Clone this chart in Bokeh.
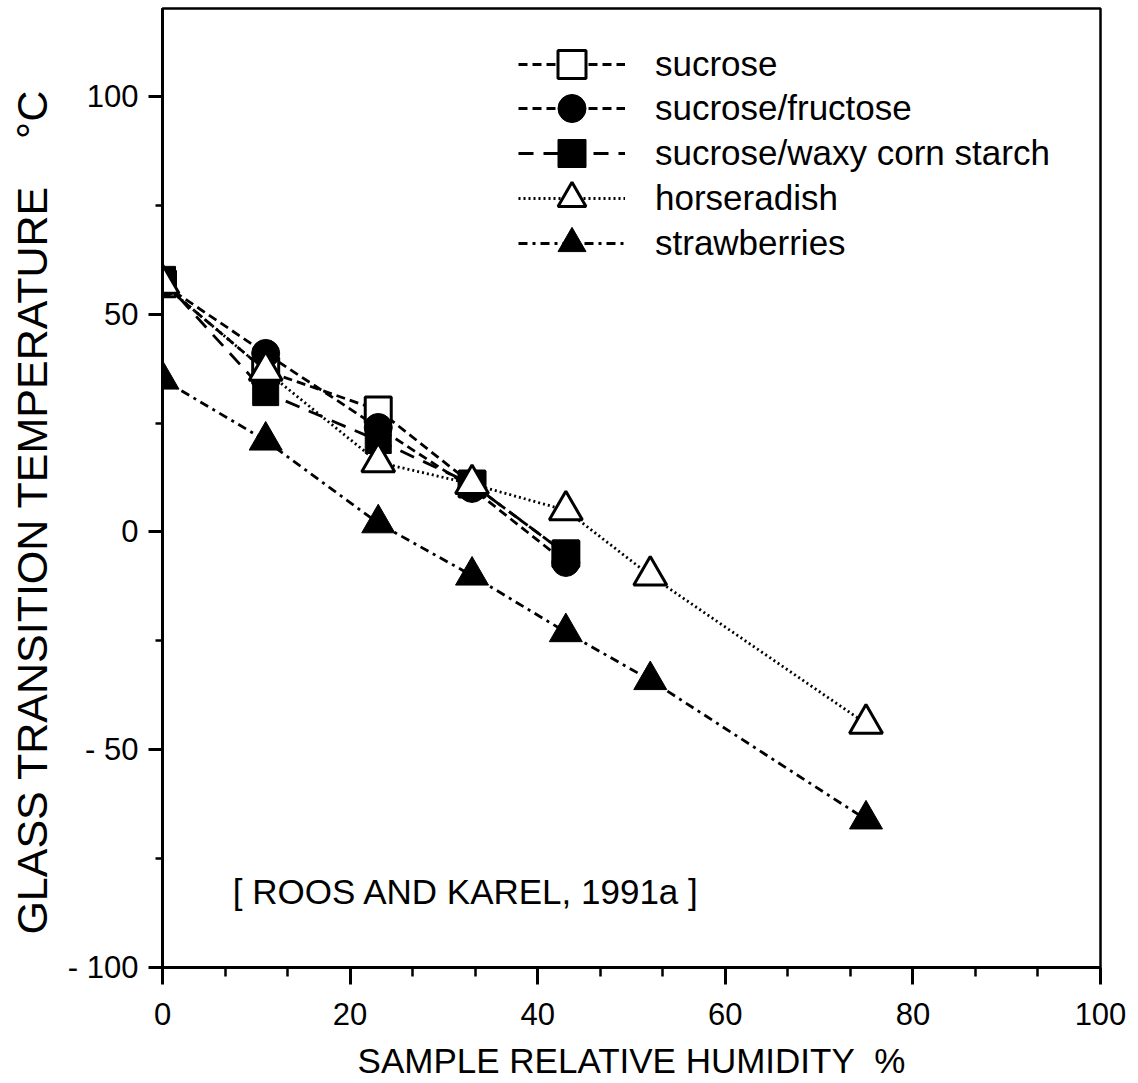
from bokeh.plotting import figure
from bokeh.models import Range1d, FixedTicker, Legend, LegendItem, Label
from bokeh.embed import file_html
from bokeh.resources import INLINE

# ---- data ----
rh_sugar = [0, 11, 23, 33, 43]
tg_sucrose = [57, 37, 28, 11, -5]
tg_sucrose_fructose = [57, 41, 24, 10, -7]
tg_sucrose_starch = [58, 32, 21, 11, -5]

rh_food = [0, 11, 23, 33, 43, 52, 75]
tg_horseradish = [57, 37, 16, 11, 5, -10, -44]
tg_strawberries = [35, 21, 2, -10, -23, -34, -66]

series_names = ["sucrose", "sucrose/fructose", "sucrose/waxy corn starch",
                "horseradish", "strawberries"]

x_ticks = [0, 20, 40, 60, 80, 100]
y_ticks = [-100, -50, 0, 50, 100]
y_tick_labels = ["-\u00a0100", "-\u00a050", "0", "50", "100"]

FONT = "Liberation Sans"

p = figure(width=1138, height=1083, output_backend="svg", toolbar_location=None,
           x_range=Range1d(0, 100), y_range=Range1d(-100, 120.2),
           frame_width=938, frame_height=959,
           min_border_left=162, min_border_right=38, min_border_top=8, min_border_bottom=116)
p.background_fill_color = "white"
p.border_fill_color = "white"
p.grid.visible = False
p.outline_line_color = "black"
p.outline_line_width = 2.5

# axes
x_minor = [v * 20 / 3 for v in range(0, 16) if v % 3 != 0]
p.xaxis.ticker = FixedTicker(ticks=x_ticks, minor_ticks=x_minor)
p.yaxis.ticker = FixedTicker(ticks=y_ticks, minor_ticks=[-75, -25, 25, 75])
p.yaxis.major_label_overrides = {t: l for t, l in zip(y_ticks, y_tick_labels)}

for ax in (p.xaxis[0], p.yaxis[0]):
    ax.axis_line_width = 3
    ax.axis_line_color = "black"
    ax.major_tick_line_width = 3
    ax.minor_tick_line_width = 2.5
    ax.major_tick_in = 0
    ax.minor_tick_in = 0
    ax.major_label_text_font = FONT
    ax.major_label_text_font_size = "31px"
    ax.major_label_text_color = "black"
    ax.axis_label_text_font = FONT
    ax.axis_label_text_font_style = "normal"
    ax.axis_label_text_color = "black"

p.xaxis.major_tick_out = 17
p.xaxis.minor_tick_out = 9
p.yaxis.major_tick_out = 14
p.yaxis.minor_tick_out = 7
p.xaxis.major_label_standoff = 18
p.yaxis.major_label_standoff = 10

p.xaxis.axis_label = "SAMPLE RELATIVE HUMIDITY\u00a0\u00a0%"
p.xaxis.axis_label_text_font_size = "35px"
p.xaxis.axis_label_standoff = 13
p.yaxis.axis_label = "GLASS TRANSITION TEMPERATURE\u00a0\u00a0\u00a0\u00a0°C\u00a0\u00a0\u00a0\u00a0"
p.yaxis.axis_label_text_font_size = "43px"
p.yaxis.axis_label_standoff = 9

# lines
lw = 2.8
l1 = p.line(rh_sugar, tg_sucrose, line_color="black", line_width=lw, line_dash="9 5")
l2 = p.line(rh_sugar, tg_sucrose_fructose, line_color="black", line_width=lw, line_dash="9 5")
l3 = p.line(rh_sugar, tg_sucrose_starch, line_color="black", line_width=lw, line_dash="15 10")
l4 = p.line(rh_food, tg_horseradish, line_color="black", line_width=lw, line_dash="2 3")
l5 = p.line(rh_food, tg_strawberries, line_color="black", line_width=lw, line_dash="9 5 3 5")

# markers
s1 = p.scatter(rh_sugar, tg_sucrose, marker="square", size=26,
               fill_color="white", line_color="black", line_width=3)
s2 = p.scatter(rh_sugar, tg_sucrose_fructose, marker="circle", size=28,
               fill_color="black", line_color="black", line_width=1)
s3 = p.scatter(rh_sugar, tg_sucrose_starch, marker="square", size=26,
               fill_color="black", line_color="black", line_width=1)
s4 = p.scatter(rh_food, tg_horseradish, marker="triangle", size=33,
               fill_color="white", line_color="black", line_width=3)
s5 = p.scatter(rh_food, tg_strawberries, marker="triangle", size=33,
               fill_color="black", line_color="black", line_width=1)

# one legend per row so rows can sit closer than the glyph box height
row_centers = [63, 107, 152, 197, 242]   # screen px from top of the page
lines = [l1, l2, l3, l4, l5]
marks = [s1, s2, s3, s4, s5]
for name, l, s, cy in zip(series_names, lines, marks, row_centers):
    lg = Legend(items=[LegendItem(label=name, renderers=[l, s])],
                location=(356, 931 - cy), orientation="vertical",
                glyph_width=107, glyph_height=70, label_height=70,
                padding=0, margin=0, spacing=0, label_standoff=30,
                label_text_font=FONT, label_text_font_size="35px",
                label_text_color="black",
                background_fill_alpha=0, border_line_alpha=0)
    p.add_layout(lg)

p.add_layout(Label(x=7.5, y=-82.6, text="[ ROOS AND KAREL, 1991a ]",
                   text_font=FONT, text_font_size="35px", text_color="black",
                   text_baseline="alphabetic", text_align="left"))

open("out.html", "w").write(file_html(p, INLINE))
